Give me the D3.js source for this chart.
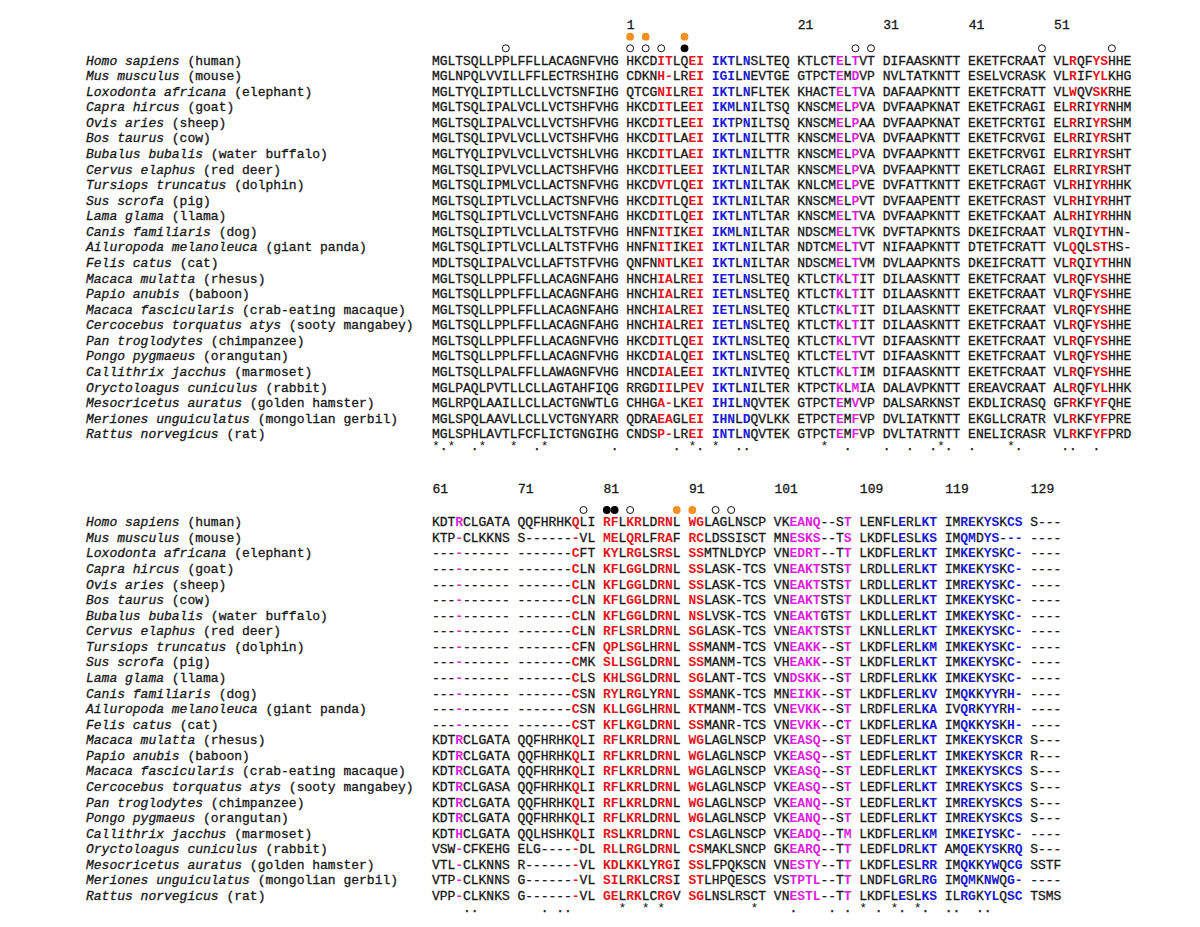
<!DOCTYPE html>
<html><head><meta charset="utf-8">
<script src="https://cdn.jsdelivr.net/npm/d3@7"></script>
<style>
html,body{margin:0;padding:0;background:#fff;}
svg{display:block;}
text{font-family:"Liberation Mono","Courier New",monospace;white-space:pre;}
</style></head><body>
<svg id="chart" width="1200" height="927"></svg>
<script>
// ---------------- DATA ----------------
const species = ["Homo sapiens","Mus musculus","Loxodonta africana","Capra hircus","Ovis aries","Bos taurus","Bubalus bubalis","Cervus elaphus","Tursiops truncatus","Sus scrofa","Lama glama","Canis familiaris","Ailuropoda melanoleuca","Felis catus","Macaca mulatta","Papio anubis","Macaca fascicularis","Cercocebus torquatus atys","Pan troglodytes","Pongo pygmaeus","Callithrix jacchus","Oryctoloagus cuniculus","Mesocricetus auratus","Meriones unguiculatus","Rattus norvegicus"];
const commonNames = ["human","mouse","elephant","goat","sheep","cow","water buffalo","red deer","dolphin","pig","llama","dog","giant panda","cat","rhesus","baboon","crab-eating macaque","sooty mangabey","chimpanzee","orangutan","marmoset","rabbit","golden hamster","mongolian gerbil","rat"];

const seqTop = [
"MGLTSQLLPPLFFLLACAGNFVHG HKCDITLQEI IKTLNSLTEQ KTLCTELTVT DIFAASKNTT EKETFCRAAT VLRQFYSHHE",
"MGLNPQLVVILLFFLECTRSHIHG CDKNH-LREI IGILNEVTGE GTPCTEMDVP NVLTATKNTT ESELVCRASK VLRIFYLKHG",
"MGLTYQLIPTLLCLLVCTSNFIHG QTCGNILREI IKTLNFLTEK KHACTELTVA DAFAAPKNTT EKETFCRATT VLWQVSKRHE",
"MGLTSQLIPALVCLLVCTSHFVHG HKCDITLEEI IKMLNILTSQ KNSCMELPVA DVFAAPKNAT EKETFCRAGI ELRRIYRNHM",
"MGLTSQLIPALVCLLVCTSHFVHG HKCDITLEEI IKTPNILTSQ KNSCMELPAA DVFAAPKNAT EKETFCRTGI ELRRIYRSHM",
"MGLTSQLIPVLVCLLVCTSHFVHG HKCDITLAEI IKTLNILTTR KNSCMELPVA DVFAAPKNTT EKETFCRVGI ELRRIYRSHT",
"MGLTYQLIPVLVCLLVCTSHLVHG HKCDITLAEI IKTLNILTTR KNSCMELPVA DVFAAPKNTT EKETFCRVGI ELRRIYRSHT",
"MGLTSQLIPVLVCLLACTSHFVHG HKCDITLEEI IKTLNILTAR KNSCMELPVA DVFAAPKNTT EKETLCRAGI ELRRIYRSHT",
"MGLTSQLIPMLVCLLACTSNFVHG HKCDVTLQEI IKTLNILTAK KNLCMELPVE DVFATTKNTT EKETFCRAGT VLRHIYRHHK",
"MGLTSQLIPTLVCLLACTSNFVHG HKCDITLQEI IKTLNILTAR KNSCMELPVT DVFAAPENTT EKETFCRAST VLRHIYRHHT",
"MGLTSQLIPTLVCLLVCTSNFAHG HKCDITLQEI IKTLNTLTAR KNSCMELTVA DVFAAPKNTT EKETFCKAAT ALRHIYRHHN",
"MGLTSQLIPTLVCLLALTSTFVHG HNFNITIKEI IKMLNILTAR NDSCMELTVK DVFTAPKNTS DKEIFCRAAT VLRQIYTHN-",
"MGLTSQLIPTLVCLLALTSTFVHG HNFNITIKEI IKTLNILTAR NDTCMELTVT NIFAAPKNTT DTETFCRATT VLQQLSTHS-",
"MDLTSQLIPALVCLLAFTSTFVHG QNFNNTLKEI IKTLNILTAR NDSCMELTVM DVLAAPKNTS DKEIFCRATT VLRQIYTHHN",
"MGLTSQLLPPLFFLLACAGNFAHG HNCHIALREI IETLNSLTEQ KTLCTKLTIT DILAASKNTT EKETFCRAAT VLRQFYSHHE",
"MGLTSQLLPPLFFLLACAGNFAHG HNCHIALREI IETLNSLTEQ KTLCTKLTIT DILAASKNTT EKETFCRAAT VLRQFYSHHE",
"MGLTSQLLPPLFFLLACAGNFAHG HNCHIALREI IETLNSLTEQ KTLCTKLTIT DILAASKNTT EKETFCRAAT VLRQFYSHHE",
"MGLTSQLLPPLFFLLACAGNFAHG HNCHIALREI IETLNSLTEQ KTLCTKLTIT DILAASKNTT EKETFCRAAT VLRQFYSHHE",
"MGLTSQLLPPLFFLLACAGNFVHG HKCDITLQEI IKTLNSLTEQ KTLCTKLTVT DIFAASKNTT EKETFCRAAT VLRQFYSHHE",
"MGLTSQLLPPLFFLLACAGNFVHG HKCDIALQEI IKTLNSLTEQ KTLCTELTVT DIFAASKNTT EKETFCRAAT VLRQFYSHHE",
"MGLTSQLLPALFFLLAWAGNFVHG HNCDIALEEI IKTLNIVTEQ KTLCTKLTIM DIFAASKNTT EKETFCRAAT VLRQFYSHHE",
"MGLPAQLPVTLLCLLAGTAHFIQG RRGDIILPEV IKTLNILTER KTPCTKLMIA DALAVPKNTT EREAVCRAAT ALRQFYLHHK",
"MGLRPQLAAILLCLLACTGNWTLG CHHGA-LKEI IHILNQVTEK GTPCTEMVVP DALSARKNST EKDLICRASQ GFRKFYFQHE",
"MGLSPQLAAVLLCLLVCTGNYARR QDRAEAGLEI IHNLDQVLKK ETPCTEMFVP DVLIATKNTT EKGLLCRATR VLRKFYFPRE",
"MGLSPHLAVTLFCFLICTGNGIHG CNDSP-LREI INTLNQVTEK GTPCTEMFVP DVLTATRNTT ENELICRASR VLRKFYFPRD"
];

const seqBottom = [
"KDTRCLGATA QQFHRHKQLI RFLKRLDRNL WGLAGLNSCP VKEANQ--ST LENFLERLKT IMREKYSKCS S---",
"KTP-CLKKNS S-------VL MELQRLFRAF RCLDSSISCT MNESKS--TS LKDFLESLKS IMQMDYS--- ----",
"---------- -------CFT KYLRGLSRSL SSMTNLDYCP VNEDRT--TT LKDFLERLKT IMKEKYSKC- ----",
"---------- -------CLN KFLGGLDRNL SSLASK-TCS VNEAKTSTST LRDLLERLKT IMKEKYSKC- ----",
"---------- -------CLN KFLGGLDRNL SSLASK-TCS VNEAKTSTST LRDLLERLKT IMREKYSKC- ----",
"---------- -------CLN KFLGGLDRNL NSLASK-TCS VNEAKTSTST LKDLLERLKT IMKEKYSKC- ----",
"---------- -------CLN KFLGGLDRNL NSLVSK-TCS VNEAKTGTST LKDLLERLKT IMKEKYSKC- ----",
"---------- -------CLN RFLSRLDRNL SGLASK-TCS VNEAKTSTST LKNLLERLKT IMKEKYSKC- ----",
"---------- -------CFN QPLSGLHRNL SSMANM-TCS VNEAKK--ST LKDFLERLKM IMKEKYSKC- ----",
"---------- -------CMK SLLSGLDRNL SSMANM-TCS VHEAKK--ST LKDFLERLKT IMKEKYSKC- ----",
"---------- -------CLS KHLSGLDRNL SGLANT-TCS VNDSKK--ST LRDFLERLKK IMKEKYSKC- ----",
"---------- -------CSN RYLRGLYRNL SSMANK-TCS MNEIKK--ST LKDFLERLKV IMQKKYYRH- ----",
"---------- -------CSN KLLGGLHRNL KTMANM-TCS VNEVKK--ST LRDFLERLKA IVQRKYYRH- ----",
"---------- -------CST KFLKGLDRNL SSMANR-TCS VNEVKK--CT LKDFLERLKA IMQKKYSKH- ----",
"KDTRCLGATA QQFHRHKQLI RFLKRLDRNL WGLAGLNSCP VKEASQ--ST LEDFLERLKT IMKEKYSKCR S---",
"KDTRCLGATA QQFHRHKQLI RFLKRLDRNL WGLAGLNSCP VKEASQ--ST LEDFLERLKT IMKEKYSKCR R---",
"KDTRCLGATA QQFHRHKQLI RFLKRLDRNL WGLAGLNSCP VKEASQ--ST LEDFLERLKT IMKEKYSKCS S---",
"KDTRCLGASA QQFHRHKQLI RFLKRLDRNL WGLAGLNSCP VKEASQ--ST LEDFLERLKT IMREKYSKCS S---",
"KDTRCLGATA QQFHRHKQLI RFLKRLDRNL WGLAGLNSCP VKEANQ--ST LEDFLERLKT IMREKYSKCS S---",
"KDTRCLGATA QQFHRHKQLI RFLKRLDRNL WGLAGLNSCP VKEANQ--ST LEDFLERLKT IMREKYSKCS S---",
"KDTHCLGATA QQLHSHKQLI RSLKRLDRNL CSLAGLNSCP VKEADQ--TM LKDFLERLKM IMKEIYSKC- ----",
"VSW-CFKEHG ELG-----DL RLLRGLDRNL CSMAKLSNCP GKEARQ--TT LEDFLDRLKT AMQEKYSKRQ S---",
"VTL-CLKNNS R-------VL KDLKKLYRGI SSLFPQKSCN VNESTY--TT LKDFLESLRR IMQKKYWQCG SSTF",
"VTP-CLKNNS G-------VL SILRKLCRSI STLHPQESCS VSTPTL--TT LNDFLGRLRG IMQMKNWQG- ----",
"VPP-CLKNKS G-------VL GELRKLCRGV SGLNSLRSCT VNESTL--TT LKDFLESLKS ILRGKYLQSC TSMS"
];

// position tick labels (column index where label starts)
const topTickLabels = ["1","21","31","41","51"];
const topTickCols = [25,47,58,69,80];
const bottomTickLabels = ["61","71","81","91","101","109","119","129"];
const bottomTickCols = [0,11,22,33,44,55,66,77];

// highlighted columns
const topRedCols = [29,30,33,34,82,85,86];
const topBlueCols = [36,37,38,40];
const topMagentaCols = [52,54];
const bottomRedCols = [18,22,23,25,26,29,30,33,34];
const bottomBlueCols = [60,63,64,68,69,71,72,74,75];
const bottomMagentaCols = [3,46,47,48,49,53];

// site markers
const topOrangeCols = [25,27,32];
const topOpenCols = [9,25,27,29,54,56,78,87];
const topFilledCols = [32];
const bottomOrangeCols = [31,33];
const bottomOpenCols = [19,25,36,38];
const bottomFilledCols = [22,23];

// conservation marks
const topStarCols = [0,2,6,10,14,33,36,50,65,74];
const topDotCols = [1,5,13,23,31,34,39,40,53,58,61,64,66,69,75,81,82,85];
const bottomStarCols = [24,27,29,41,55,59,62];
const bottomDotCols = [4,5,14,16,17,46,51,53,57,60,63,66,67,70,71];

// ---------------- DRAW ----------------
const RED = "#e8141c", BLUE = "#1a1ad6", MAGENTA = "#e01ee0", ORANGE = "#f39020", INK = "#161616";
const svg = d3.select("#chart");
const x = d3.scaleLinear().domain([0, 90]).range([432, 432 + 90 * 7.77]);
const xc = c => x(c + 0.5);
const nRows = species.length;
const yTop = d3.scaleLinear().domain([0, nRows - 1]).range([60, 60 + (nRows - 1) * 15.57]);
const yBot = d3.scaleLinear().domain([0, nRows - 1]).range([521.7, 521.7 + (nRows - 1) * 15.57]);
const FS = 13, BASE = 4.6, HEAVY = 0.3;

function colorFor(c, red, blue, mag) {
  if (red.includes(c)) return RED;
  if (blue.includes(c)) return BLUE;
  if (mag.includes(c)) return MAGENTA;
  return null;
}

function panel(cfg) {
  const g = svg.append("g");
  const y = cfg.y;
  // names
  const names = g.selectAll("text.name").data(species).join("text")
    .attr("class", "name").attr("x", 86)
    .attr("y", (d, i) => y(i) + BASE).attr("font-size", FS)
    .attr("fill", INK).attr("stroke", INK).attr("stroke-width", HEAVY);
  names.append("tspan").attr("font-style", "italic").text(d => d);
  names.append("tspan").text((d, i) => " (" + commonNames[i] + ")");
  // sequences
  const rows = g.selectAll("g.row").data(cfg.seqs).join("g").attr("class", "row")
    .attr("transform", (d, i) => `translate(0,${y(i) + BASE})`);
  rows.selectAll("text").data(s => s.split("").map((ch, c) => ({ch, c})).filter(d => d.ch !== " "))
    .join("text")
    .attr("x", d => xc(d.c)).attr("text-anchor", "middle")
    .attr("font-size", FS)
    .each(function(d) {
      const col = colorFor(d.c, cfg.red, cfg.blue, cfg.mag);
      const s = d3.select(this).attr("fill", col || INK).attr("font-weight", col ? "bold" : "normal");
      if (!col) s.attr("stroke", INK).attr("stroke-width", HEAVY);
    })
    .text(d => d.ch);
  // tick labels
  g.selectAll("text.tick").data(cfg.tickLabels).join("text").attr("class", "tick")
    .attr("x", (d, i) => x(cfg.tickCols[i]) + 0.5).attr("y", cfg.tickY)
    .attr("font-size", FS).attr("fill", INK).attr("stroke", INK).attr("stroke-width", HEAVY).text(d => d);
  // markers
  g.selectAll("circle.orange").data(cfg.orange).join("circle").attr("class", "orange")
    .attr("cx", d => xc(d)).attr("cy", cfg.orangeY).attr("r", 3.9).attr("fill", ORANGE);
  g.selectAll("circle.filled").data(cfg.filled).join("circle").attr("class", "filled")
    .attr("cx", d => xc(d)).attr("cy", cfg.circleY).attr("r", 3.9).attr("fill", "#000");
  g.selectAll("circle.open").data(cfg.open).join("circle").attr("class", "open")
    .attr("cx", d => xc(d)).attr("cy", cfg.circleY).attr("r", 3.5)
    .attr("fill", "none").attr("stroke", "#111").attr("stroke-width", 1);
  // conservation
  const cy = y(nRows - 1) + BASE + cfg.consGap;
  g.selectAll("text.star").data(cfg.stars).join("text").attr("class", "star")
    .attr("x", d => xc(d)).attr("y", cy).attr("text-anchor", "middle")
    .attr("font-size", FS).attr("fill", INK).text("*");
  g.selectAll("text.dot").data(cfg.dots).join("text").attr("class", "dot")
    .attr("x", d => xc(d)).attr("y", cy).attr("text-anchor", "middle")
    .attr("font-size", FS).attr("fill", INK).attr("stroke", INK).attr("stroke-width", HEAVY).text(".");
}

panel({seqs: seqTop, y: yTop, red: topRedCols, blue: topBlueCols, mag: topMagentaCols,
  tickLabels: topTickLabels, tickCols: topTickCols, tickY: 28.5,
  orange: topOrangeCols, filled: topFilledCols, open: topOpenCols, orangeY: 36.7, circleY: 48.3,
  stars: topStarCols, dots: topDotCols, consGap: 12});

panel({seqs: seqBottom, y: yBot, red: bottomRedCols, blue: bottomBlueCols, mag: bottomMagentaCols,
  tickLabels: bottomTickLabels, tickCols: bottomTickCols, tickY: 493,
  orange: bottomOrangeCols, filled: bottomFilledCols, open: bottomOpenCols, orangeY: 510, circleY: 510,
  stars: bottomStarCols, dots: bottomDotCols, consGap: 12});
</script>
</body></html>
